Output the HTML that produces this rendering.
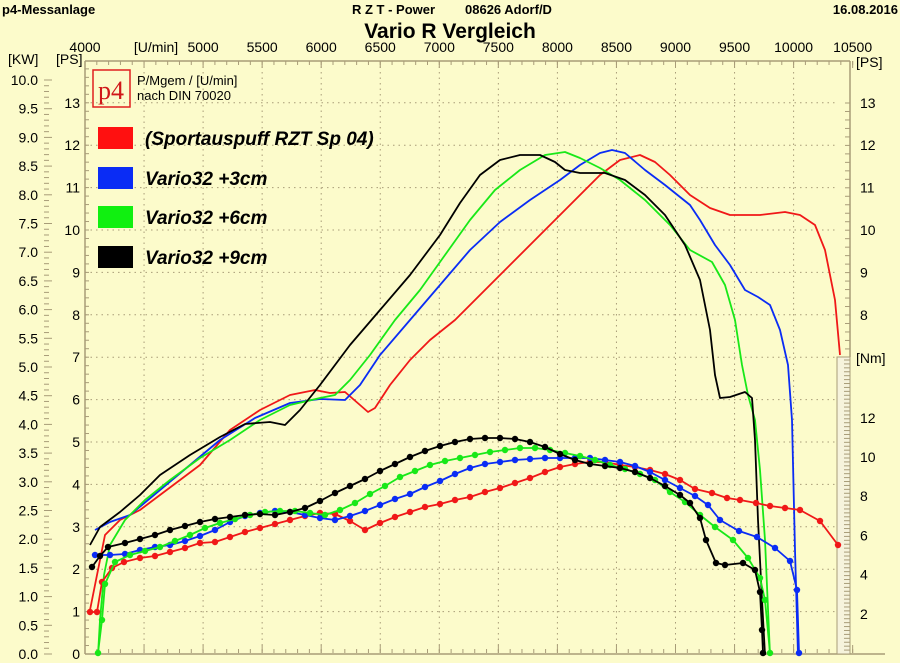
<!DOCTYPE html>
<html><head><meta charset="utf-8"><style>
body{margin:0;background:#fcfbcb;}
svg{display:block;font-family:"Liberation Sans",sans-serif;}
</style></head><body>
<svg id="s" width="900" height="663" xmlns="http://www.w3.org/2000/svg">
<rect width="900" height="663" fill="#fcfbcb"/>
<g id="grid"></g>
<text x="2" y="14" font-size="13" font-weight="bold">p4-Messanlage</text>
<text x="352" y="14" font-size="13" font-weight="bold">R Z T - Power</text>
<text x="465" y="14" font-size="13" font-weight="bold">08626 Adorf/D</text>
<text x="898" y="14" font-size="13" font-weight="bold" text-anchor="end">16.08.2016</text>
<text x="450" y="38" font-size="21" font-weight="bold" text-anchor="middle">Vario R Vergleich</text>
<text x="8" y="64" font-size="14">[KW]</text>
<text x="56" y="64" font-size="14">[PS]</text>
<text x="856" y="67" font-size="14">[PS]</text>
<text x="156" y="52" font-size="14" text-anchor="middle">[U/min]</text>
<text x="856" y="363" font-size="14">[Nm]</text>
<rect x="93" y="70" width="37" height="37" fill="none" stroke="#e02020" stroke-width="1.5"/>
<text x="111" y="99" font-size="26" fill="#d01818" text-anchor="middle" font-family="Liberation Serif,serif">p4</text>
<text x="137" y="85" font-size="13">P/Mgem / [U/min]</text>
<text x="137" y="100" font-size="13">nach DIN 70020</text>
<g font-size="19" font-weight="bold" font-style="italic">
<rect x="98" y="127" width="35" height="22" fill="#ff1010"/><text x="145" y="145">(Sportauspuff RZT Sp 04)</text>
<rect x="98" y="167" width="35" height="22" fill="#0a2cf5"/><text x="145" y="185">Vario32 +3cm</text>
<rect x="98" y="206" width="35" height="22" fill="#10f010"/><text x="145" y="224">Vario32 +6cm</text>
<rect x="98" y="246" width="35" height="22" fill="#000"/><text x="145" y="264">Vario32 +9cm</text>
</g>
<g id="curves" fill="none" stroke-width="1.8" stroke-linejoin="round"></g>
</svg>
<script>
var NS="http://www.w3.org/2000/svg",g=document.getElementById('grid'),c=document.getElementById('curves');
function el(p,t,a,txt){var e=document.createElementNS(NS,t);for(var k in a)e.setAttribute(k,a[k]);if(txt!=null)e.textContent=txt;p.appendChild(e);return e;}
var X=function(r){return 85+(r-4000)*0.1181;};
var ax="#a89c78";
for(var r=4000;r<=10500;r+=500){var x=X(r);
 if(r>4000&&r<10500)el(g,'line',{x1:x,y1:61,x2:x,y2:653,stroke:"#a89c78","stroke-dasharray":"1.5,4"});
 if(r!=4500)el(g,'text',{x:x,y:52,'font-size':14,'text-anchor':'middle'},r);
 el(g,'line',{x1:x,y1:61,x2:x,y2:68,stroke:ax});el(g,'line',{x1:x,y1:653,x2:x,y2:645,stroke:ax});}
for(var r=4000;r<=10500;r+=100){var x=X(r);el(g,'line',{x1:x,y1:61,x2:x,y2:65,stroke:ax});el(g,'line',{x1:x,y1:653,x2:x,y2:649,stroke:ax});}
for(var p=0;p<=13;p++){var y=654-42.4*p;
 if(p>0)el(g,'line',{x1:85,y1:y,x2:835,y2:y,stroke:"#a89c78","stroke-dasharray":"1.5,4"});
 el(g,'text',{x:80,y:y+5,'font-size':14,'text-anchor':'end'},p);
 if(p>=8&&p<=13)el(g,'text',{x:860,y:y+5,'font-size':14},p);}
for(var k=0;k<=100;k++){var y=654-5.74*k;el(g,'line',{x1:44,y1:y,x2:k%5?49:52,y2:y,stroke:ax});}
for(var k=0;k<=20;k++){var y=654-28.7*k;el(g,'text',{x:38,y:y+5,'font-size':14,'text-anchor':'end'},(k/2).toFixed(1));}
for(var y=654;y>=61;y-=8.48){el(g,'line',{x1:85,y1:y,x2:89,y2:y,stroke:ax});}
el(g,'line',{x1:85,y1:61,x2:850,y2:61,stroke:ax,'stroke-width':1.5});
el(g,'line',{x1:85,y1:61,x2:85,y2:654,stroke:ax,'stroke-width':1.5});
el(g,'line',{x1:85,y1:654,x2:885,y2:654,stroke:ax,'stroke-width':1.5});
el(g,'line',{x1:850,y1:61,x2:850,y2:357,stroke:ax,'stroke-width':1.5});
el(g,'rect',{x:837,y:357,width:13,height:297,fill:"#f6f3dc",stroke:ax});
for(var y=654;y>=357;y-=3.92){el(g,'line',{x1:844,y1:y,x2:850,y2:y,stroke:ax});}
for(var y=103;y<=357;y+=8.48){el(g,'line',{x1:845,y1:y,x2:850,y2:y,stroke:ax});}
[2,4,6,8,10,12].forEach(function(n){el(g,'text',{x:860,y:653-19.6*n+5,'font-size':14},n);});
function P(pts,col,dots){var s=pts.map(function(p){return p.join(',')}).join(' ');
 el(c,'polyline',{points:s,stroke:col});
 if(dots)for(var i=0;i<pts.length;i+=1){el(c,'circle',{cx:pts[i][0],cy:pts[i][1],r:3.2,fill:col,stroke:'none'});}}
var R="#f01818",B="#0a2cf5",G="#18e818",K="#000";
P([[90,610],[97,575],[105,535],[120,520],[140,510],[160,495],[180,480],[200,465],[230,430],[260,410],[290,395],[315,390],[330,393],[345,392],[360,405],[368,412],[375,408],[390,385],[410,360],[430,340],[455,320],[480,295],[500,275],[520,255],[550,225],[575,200],[600,175],[620,160],[640,155],[655,162],[670,175],[690,195],[710,208],[730,215],[760,215],[785,212],[800,215],[815,225],[825,250],[835,300],[840,355]],R);
P([[95,530],[110,522],[130,515],[160,490],[190,465],[220,440],[255,418],[290,403],[320,399],[345,400],[360,385],[380,355],[410,320],[440,285],[470,250],[500,222],[530,200],[560,180],[580,165],[600,153],[612,150],[625,153],[645,170],[665,185],[690,205],[700,220],[715,245],[730,265],[745,290],[758,297],[770,305],[780,330],[788,365],[792,420],[795,550],[798,655]],B);
P([[98,655],[100,620],[104,575],[110,545],[125,520],[145,500],[170,480],[200,458],[230,440],[260,420],[290,405],[320,398],[335,395],[350,380],[370,355],[395,320],[420,290],[445,255],[470,220],[495,190],[520,170],[545,155],[565,152],[580,158],[600,168],[620,180],[645,200],[670,225],[690,250],[712,262],[725,285],[735,320],[742,365],[748,395],[755,420],[760,470],[765,540],[770,655]],G);
P([[90,545],[100,527],[120,512],[140,495],[160,475],[190,455],[220,437],[245,424],[270,422],[285,425],[300,410],[320,385],[350,345],[380,310],[410,275],[440,235],[460,203],[480,175],[500,160],[520,155],[540,155],[555,162],[565,170],[580,173],[605,173],[625,180],[645,195],[665,215],[685,245],[700,280],[710,330],[715,375],[720,398],[730,397],[745,392],[752,398],[755,440],[758,520],[762,600],[765,655]],K);
P([[90,612],[97,612],[102,582],[112,568],[124,562],[140,558],[155,556],[170,552],[185,548],[200,543],[215,542],[230,537],[245,532],[260,528],[275,524],[290,520],[305,516],[320,513],[335,514],[350,521],[365,530],[380,523],[395,517],[410,512],[425,507],[440,504],[455,500],[470,497],[485,492],[500,488],[515,483],[530,478],[545,472],[560,467],[575,464],[590,462],[605,462],[620,465],[635,467],[650,470],[665,474],[680,480],[695,489],[712,493],[727,498],[740,500],[756,503],[770,506],[785,508],[800,510],[820,521],[838,545]],R,1);
P([[95,555],[110,555],[125,554],[140,550],[155,547],[170,545],[185,541],[200,536],[215,530],[230,522],[245,516],[260,513],[275,511],[290,512],[305,515],[320,518],[335,520],[350,516],[365,511],[380,505],[395,499],[410,494],[425,487],[440,481],[455,474],[470,468],[485,464],[500,462],[515,460],[530,459],[545,458],[560,458],[575,458],[590,458],[605,460],[620,462],[635,466],[650,472],[665,480],[680,488],[695,496],[708,505],[720,520],[739,531],[757,537],[775,548],[790,561],[797,590],[799,653]],B,1);
P([[98,653],[102,620],[105,584],[115,562],[130,555],[145,551],[160,547],[175,541],[190,535],[205,528],[220,523],[235,519],[250,515],[265,512],[280,511],[295,511],[310,513],[325,515],[340,510],[355,503],[370,494],[385,486],[400,477],[415,471],[430,465],[445,461],[460,458],[475,455],[490,452],[505,450],[520,448],[535,448],[550,450],[565,453],[580,456],[595,460],[610,465],[625,469],[640,474],[655,480],[670,492],[685,502],[700,515],[715,527],[733,540],[748,558],[760,578],[765,600],[770,653]],G,1);
P([[92,567],[100,556],[108,547],[125,543],[140,539],[155,535],[170,530],[185,526],[200,522],[215,519],[230,517],[245,515],[260,514],[275,515],[290,512],[305,508],[320,501],[335,493],[350,486],[365,479],[380,471],[395,464],[410,457],[425,451],[440,446],[455,442],[470,439],[485,438],[500,438],[515,439],[530,442],[545,447],[560,454],[575,460],[590,464],[605,466],[620,468],[635,472],[650,478],[665,486],[680,495],[690,503],[700,518],[706,540],[716,563],[725,565],[743,563],[755,570],[760,592],[762,630],[763,653]],K,1);
</script>
</body></html>
